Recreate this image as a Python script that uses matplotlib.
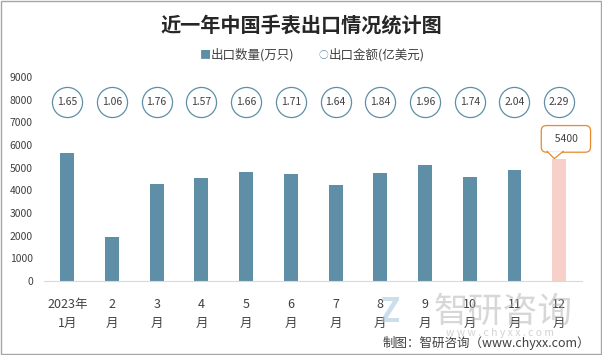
import matplotlib
matplotlib.use("Agg")
import matplotlib.pyplot as plt
from matplotlib.patches import Polygon

###   Data

months = ["2023年\n1月", "2\n月", "3\n月", "4\n月", "5\n月", "6\n月",
          "7\n月", "8\n月", "9\n月", "10\n月", "11\n月", "12\n月"]
qty = [5650, 1940, 4280, 4540, 4810, 4720, 4230, 4760, 5120, 4590, 4900, 5400]
amount = [1.65, 1.06, 1.76, 1.57, 1.66, 1.71, 1.64, 1.84, 1.96, 1.74, 2.04, 2.29]
yticks = [0, 1000, 2000, 3000, 4000, 5000, 6000, 7000, 8000, 9000]

###   Style

plt.rcParams['font.family'] = ['Noto Sans CJK SC', 'DejaVu Sans']
BAR = '#5e8fa7'
LAST = '#f7d0c9'
TXT = '#404040'
ORANGE = '#e8892b'

fig = plt.figure(figsize=(6.02, 3.55), dpi=100)
ax = fig.add_axes([44/602, 1-281/355, 538/602, 204/355])

x = list(range(len(months)))
colors = [BAR] * (len(qty) - 1) + [LAST]
ax.bar(x, qty, width=0.31, color=colors, zorder=2)

# amount circles sit on a fixed row just under 8000
row = [7900] * len(amount)
ax.scatter(x, row, s=470, facecolor='white', edgecolor=BAR, linewidth=0.9, zorder=3)
for i, v in enumerate(amount):
    ax.text(i, 7900, f"{v:.2f}", ha='center', va='center', fontsize=7.5, color=TXT, zorder=4)

# callout for last bar: box + pointer down to the bar top
last = len(qty) - 1
ax.text(last + 0.15, 6270, "  " + str(qty[-1]) + "  ", ha='center', va='center',
        fontsize=7.5, color=TXT, zorder=5,
        bbox=dict(boxstyle='round,pad=0.8,rounding_size=0.5', fc='white', ec=ORANGE, lw=0.9))
base_y = 5720
tip = (last - 0.11, qty[-1])
left = (last - 0.27, base_y)
right = (last + 0.09, base_y)
ax.add_patch(Polygon([left, tip, right], closed=True, fc='white', ec='none', zorder=6))
ax.plot([left[0], tip[0], right[0]], [left[1], tip[1], right[1]],
        color=ORANGE, lw=0.9, zorder=7, solid_joinstyle='miter')

ax.set_xlim(-0.52, 11.51)
ax.set_ylim(0, 9000)
ax.set_yticks(yticks)
ax.set_yticklabels([str(t) for t in yticks], fontsize=7.5, color=TXT)
ax.set_xticks(x)
ax.set_xticklabels(months, fontsize=9, color=TXT, linespacing=1.6)
ax.tick_params(length=0, pad=8)
ax.tick_params(axis='x', pad=12)
for s in ['top', 'right', 'left']:
    ax.spines[s].set_visible(False)
ax.spines['bottom'].set_color('#d9d9d9')

# title + legend
fig.text(0.5, 1-25/355, "近一年中国手表出口情况统计图", ha='center', va='center',
         fontsize=14.5, fontweight='bold', color='#262626')
ly = 1-55/355
fig.text(205/602, ly, "■", ha='center', va='center', fontsize=8, color=BAR)
fig.text(211/602, ly, "出口数量(万只)", ha='left', va='center', fontsize=9, color=TXT)
fig.text(323/602, ly, "○", ha='center', va='center', fontsize=7, color=BAR)
fig.text(329/602, ly, "出口金额(亿美元)", ha='left', va='center', fontsize=9, color=TXT)

# watermark
fig.text(503/602, 1-312/355, "智研咨询", ha='center', va='center', fontsize=25,
         color='#b0b0b0', alpha=0.5)
fig.text(390/602, 1-312/355, "Z", ha='center', va='center', fontsize=24,
         fontweight='bold', color='#a8c8e0', alpha=0.6)
fig.text(500/602, 1-333/355, "w w w . c h y x x . c o m", ha='center', va='center',
         fontsize=7.5, color='#c0c0c0', alpha=0.7)

fig.text(590/602, 1-343/355, "制图：智研咨询（www.chyxx.com）", ha='right', va='center',
         fontsize=9, color=TXT)

# frame
fig.patches.append(plt.Rectangle((0.001, 0.002), 0.997, 0.995, transform=fig.transFigure,
                                 fill=False, ec='#a6a6a6', lw=1))

fig.savefig("out.png", dpi=100)
